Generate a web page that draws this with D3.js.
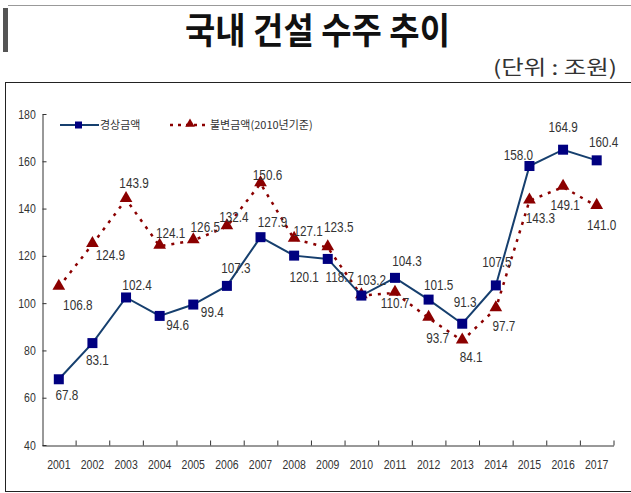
<!DOCTYPE html>
<html>
<head>
<meta charset="utf-8">
<script src="https://cdn.jsdelivr.net/npm/d3@7"></script>
<style>
  body { margin: 0; background: #fff; }
  svg { display: block; }
  .num { font-family: 'Liberation Sans Narrow', 'Arial Narrow', 'Liberation Sans', sans-serif; }
  .kr { font-family: 'Noto Sans CJK KR', 'Noto Sans', sans-serif; }
</style>
</head>
<body>
<div id="chart"></div>
<script>
// data
let years = ['2001', '2002', '2003', '2004', '2005', '2006', '2007', '2008', '2009',
  '2010', '2011', '2012', '2013', '2014', '2015', '2016', '2017']
let nominal = [67.8, 83.1, 102.4, 94.6, 99.4, 107.3, 127.9, 120.1, 118.7,
  103.2, 110.7, 101.5, 91.3, 107.5, 158.0, 164.9, 160.4]
let constant = [106.8, 124.9, 143.9, 124.1, 126.5, 132.4, 150.6, 127.1, 123.5,
  103.2, 104.3, 93.7, 84.1, 97.7, 143.3, 149.1, 141.0]
// data labels as printed in the original (2011 labels are swapped there)
let nominalText = ['67.8', '83.1', '102.4', '94.6', '99.4', '107.3', '127.9', '120.1', '118.7',
  '103.2', '104.3', '101.5', '91.3', '107.5', '158.0', '164.9', '160.4']
let constantText = ['106.8', '124.9', '143.9', '124.1', '126.5', '132.4', '150.6', '127.1', '123.5',
  '', '110.7', '93.7', '84.1', '97.7', '143.3', '149.1', '141.0']
let yTicks = [40, 60, 80, 100, 120, 140, 160, 180]

// label offsets [dx, dy] from the marker
let nominalOff = [[8, 16], [5, 17], [11, -12], [18, 9], [19, 8], [9, -18], [12, -15], [10, 21], [12, 18],
  [10, -15], [12, -17], [10, -15], [3, -22], [1, -23], [-11, -11], [0, -23], [7, -18]]
let constantOff = [[19, 18], [18, 11], [8, -16], [11, -13], [12, -13], [7, -9], [7, -8], [14, -8], [11, -20],
  [0, 0], [0, 10], [9, 20], [9, 16], [8, 18], [11, 17], [2, 18], [5, 19]]

let blueLine = '#163f6e'
let blueMark = '#000080'
let redC = '#8b0000'
let textC = '#333'
let squeeze = 'scale(0.84,1)'

var width = 631
var height = 493

var svg = d3.select('#chart').append('svg')
  .attr('width', width)
  .attr('height', height)

// ----------------------------------------
// Header
// ----------------------------------------
svg.append('rect')
  .attr('x', 3).attr('y', 8)
  .attr('width', 5).attr('height', 44)
  .attr('fill', '#555')

svg.append('line')
  .attr('x1', 8).attr('x2', width)
  .attr('y1', 5.5).attr('y2', 5.5)
  .attr('stroke', '#999')
  .attr('stroke-width', 1)

svg.append('text')
  .attr('class', 'kr')
  .attr('x', 185).attr('y', 44)
  .attr('textLength', 265)
  .attr('lengthAdjust', 'spacingAndGlyphs')
  .style('font-size', '36px')
  .style('font-weight', 'bold')
  .style('fill', '#111')
  .text('국내 건설 수주 추이')

svg.append('text')
  .attr('class', 'kr')
  .attr('x', 617).attr('y', 75)
  .attr('text-anchor', 'end')
  .attr('textLength', 124)
  .attr('lengthAdjust', 'spacingAndGlyphs')
  .style('font-size', '20px')
  .style('fill', textC)
  .text('(단위 : 조원)')

svg.append('rect')
  .attr('x', 5.5).attr('y', 82.5)
  .attr('width', 700).attr('height', 409)
  .attr('fill', 'none')
  .attr('stroke', '#222')
  .attr('stroke-width', 1)

// ----------------------------------------
// Scales and axes
// ----------------------------------------
var x = d3.scaleBand().domain(years).range([42, 613.5])
var y = d3.scaleLinear().domain([40, 180]).range([445, 114])
var cx = d => x(d) + x.bandwidth() / 2

var yAxis = svg.append('g')
  .attr('class', 'num')
  .attr('transform', 'translate(42.5,0)')
  .call(d3.axisLeft(y).tickValues(yTicks).tickSizeInner(-4).tickSizeOuter(0).tickPadding(8))
yAxis.select('.domain').attr('stroke', '#333')
yAxis.selectAll('line').attr('stroke', '#333')
yAxis.selectAll('text').style('font-size', '12.5px').style('fill', textC)
  .attr('transform', squeeze)

var xAxis = svg.append('g')
  .attr('class', 'num')
  .attr('transform', 'translate(0,445.5)')
  .call(d3.axisBottom(x).tickSize(0).tickPadding(15))
xAxis.select('.domain').attr('stroke', '#333')
xAxis.selectAll('text').style('font-size', '12.5px').style('fill', textC)
  .attr('transform', squeeze)

// band boundary ticks pointing up
xAxis.selectAll('line.bt')
  .data(years)
  .enter().append('line')
  .attr('class', 'bt')
  .attr('x1', d => x(d) + x.bandwidth() + 0.5)
  .attr('x2', d => x(d) + x.bandwidth() + 0.5)
  .attr('y1', 0).attr('y2', -5)
  .attr('stroke', '#333')

// ----------------------------------------
// Series
// ----------------------------------------
var line = d3.line()
  .x((d, i) => cx(years[i]))
  .y(d => y(d))

var tri = d3.symbol().type(d3.symbolTriangle).size(70)

svg.append('path')
  .datum(constant)
  .attr('d', line)
  .attr('fill', 'none')
  .attr('stroke', redC)
  .attr('stroke-width', 2.5)
  .attr('stroke-dasharray', '3,6')

svg.append('path')
  .datum(nominal)
  .attr('d', line)
  .attr('fill', 'none')
  .attr('stroke', blueLine)
  .attr('stroke-width', 2)

svg.selectAll('path.tri')
  .data(constant)
  .enter().append('path')
  .attr('class', 'tri')
  .attr('d', tri)
  .attr('transform', (d, i) => 'translate(' + cx(years[i]) + ',' + (y(d) - 1) + ')')
  .attr('fill', redC)

svg.selectAll('rect.sq')
  .data(nominal)
  .enter().append('rect')
  .attr('class', 'sq')
  .attr('x', (d, i) => cx(years[i]) - 5)
  .attr('y', d => y(d) - 5)
  .attr('width', 10).attr('height', 10)
  .attr('fill', blueMark)

// data labels
function addLabels (cls, values, texts, offs) {
  svg.selectAll('g.' + cls)
    .data(values)
    .enter().append('g')
    .attr('class', cls + ' num')
    .attr('transform', (d, i) => 'translate(' + (cx(years[i]) + offs[i][0]) + ',' + (y(d) + offs[i][1]) + ')')
    .append('text')
    .attr('transform', squeeze)
    .attr('dy', '0.35em')
    .attr('text-anchor', 'middle')
    .style('font-size', '14px')
    .style('fill', textC)
    .text((d, i) => texts[i])
}
addLabels('nl', nominal, nominalText, nominalOff)
addLabels('cl', constant, constantText, constantOff)

// ----------------------------------------
// Legend
// ----------------------------------------
var legend = svg.append('g').attr('transform', 'translate(0,125)')

legend.append('line')
  .attr('x1', 60).attr('x2', 99)
  .attr('stroke', blueLine).attr('stroke-width', 2)
legend.append('rect')
  .attr('x', 75).attr('y', -3.5)
  .attr('width', 7).attr('height', 7)
  .attr('fill', blueMark)
legend.append('text')
  .attr('class', 'kr')
  .attr('x', 100).attr('dy', '0.35em')
  .style('font-size', '11px')
  .style('fill', textC)
  .text('경상금액')

legend.append('line')
  .attr('x1', 170).attr('x2', 209)
  .attr('stroke', redC).attr('stroke-width', 2.5)
  .attr('stroke-dasharray', '3,5')
legend.append('path')
  .attr('d', d3.symbol().type(d3.symbolTriangle).size(40))
  .attr('transform', 'translate(190,-1)')
  .attr('fill', redC)
legend.append('text')
  .attr('class', 'kr')
  .attr('x', 210).attr('dy', '0.35em')
  .style('font-size', '11px')
  .style('fill', textC)
  .text('불변금액(2010년기준)')
</script>
</body>
</html>
